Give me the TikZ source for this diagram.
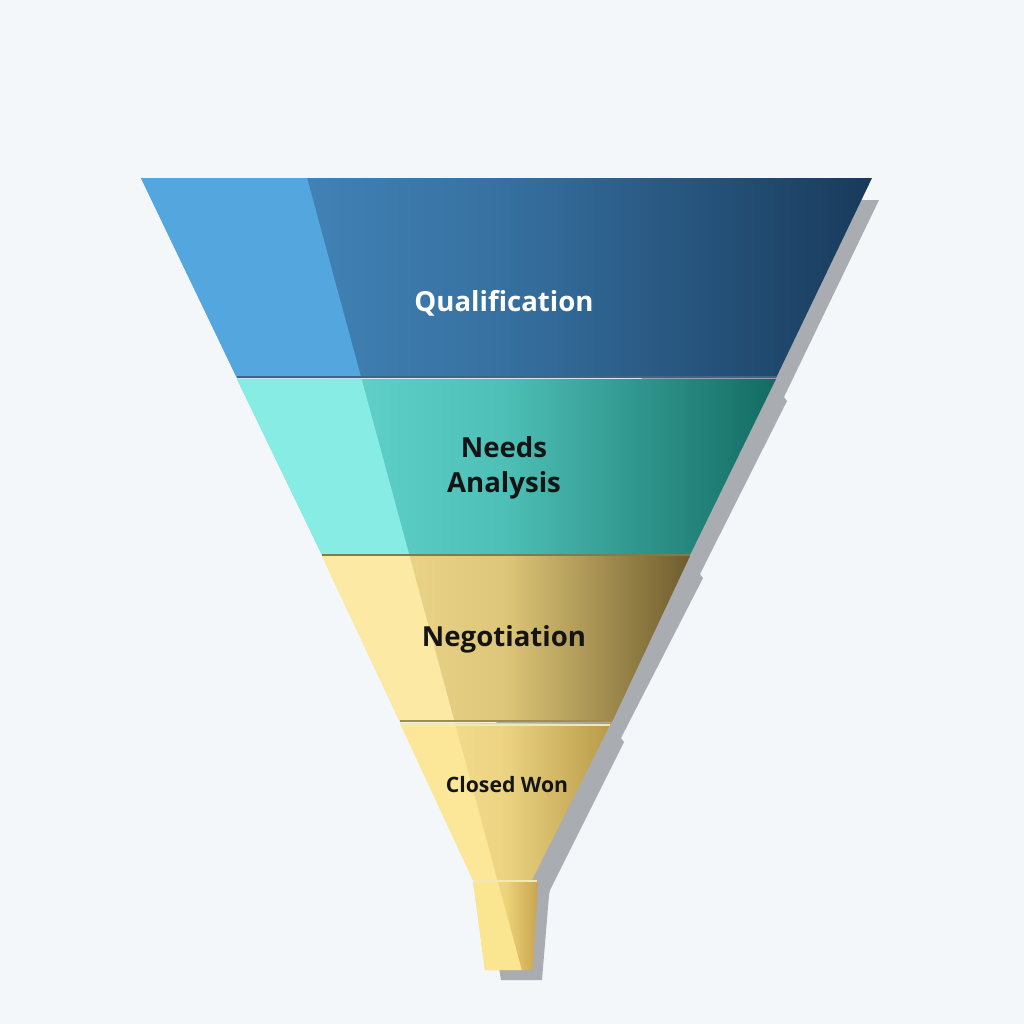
\documentclass[tikz,border=0pt]{standalone}
\usepackage{fontspec}
\setmainfont{Open Sans}
\definecolor{bgc}{HTML}{F4F7F9}
\definecolor{shadowc}{HTML}{A9ADB1}
% band 1
\definecolor{qL}{HTML}{4A90C6}\definecolor{qM}{HTML}{3670A0}\definecolor{qR}{HTML}{183A5B}\definecolor{qS}{HTML}{53A6DE}\definecolor{qE}{HTML}{3D6684}
% band 2
\definecolor{nL}{HTML}{6CDED5}\definecolor{nM}{HTML}{4DBFB6}\definecolor{nR}{HTML}{126B62}\definecolor{nS}{HTML}{87ECE4}\definecolor{nE}{HTML}{7E7B52}
% band 3
\definecolor{gL}{HTML}{F4DE93}\definecolor{gM}{HTML}{DDC678}\definecolor{gR}{HTML}{6E5C2C}\definecolor{gS}{HTML}{FCE9A4}\definecolor{gE}{HTML}{A38C4A}
% band 4
\definecolor{cL}{HTML}{F7E293}\definecolor{cM}{HTML}{EBD382}\definecolor{cR}{HTML}{B89A48}\definecolor{cS}{HTML}{FBE797}\definecolor{cE}{HTML}{F3E7B8}
% spout
\definecolor{sL}{HTML}{F6DE88}\definecolor{sM}{HTML}{EDD37A}\definecolor{sR}{HTML}{C7A54E}\definecolor{sS}{HTML}{FAE591}
\definecolor{txt}{HTML}{141414}
\tikzset{
  lbl/.style={font=\bfseries\fontsize{13.8}{17.5}\selectfont, align=center, text=txt, inner sep=0pt},
  smalllbl/.style={lbl, font=\bfseries\fontsize{10.6}{13}\selectfont},
  sepline/.style={line width=1.4pt},
}
\newcommand{\bandfill}[5]{% path, left, middle, right, stripe
  \begin{scope}
    \clip #1;
    \shade[left color=#2, right color=#4, middle color=#3] #1;
    \fill[#5] (0,78) -- (280,78) -- (557,1100) -- (0,1100) -- cycle;
  \end{scope}}
\begin{document}
\begin{tikzpicture}[x=0.5pt,y=-0.5pt]
\fill[bgc] (0,0) rectangle (1024,1024);
\useasboundingbox (0,0) rectangle (1024,1024);
% shadow
\fill[shadowc] (850,200) -- (879,200) -- (784,397) -- (787,401) -- (700,574) -- (703,578)
  -- (621,738) -- (624,742) -- (550,890) -- (549,895) -- (542,980) -- (501,980)
  -- (493,930) -- (500,500) -- cycle;
% bands
\bandfill{(141,178) -- (872,178) -- (776,378) -- (237,378) -- cycle}{qL}{qM}{qR}{qS}
\draw[sepline, qE] (237,377) -- (776,377);
\bandfill{(237,379) -- (776,379) -- (690,555) -- (322,555) -- cycle}{nL}{nM}{nR}{nS}
\draw[sepline, nE] (322,555) -- (690,555);
\bandfill{(322,556) -- (690,556) -- (612,722) -- (400,722) -- cycle}{gL}{gM}{gR}{gS}
\draw[sepline, gE] (400,721) -- (612,721);
\bandfill{(400,723) -- (611,723) -- (532,880) -- (473,880) -- cycle}{cL}{cM}{cR}{cS}
\draw[line width=0.8pt, cE] (401,725) -- (610,725);
\bandfill{(473,881) -- (538,881) -- (533,970) -- (485,970) -- cycle}{sL}{sM}{sR}{sS}
\draw[line width=0.8pt, cE] (474,881) -- (537,881);
% labels
\node[lbl, text=white] (q) at (504,303) {Qualification};
\node[lbl] (na) at (504,468) {Needs\\Analysis};
\node[lbl] (neg) at (504,639) {Negotiation};
\node[smalllbl] (cw) at (507,785) {Closed Won};
\end{tikzpicture}
\end{document}
